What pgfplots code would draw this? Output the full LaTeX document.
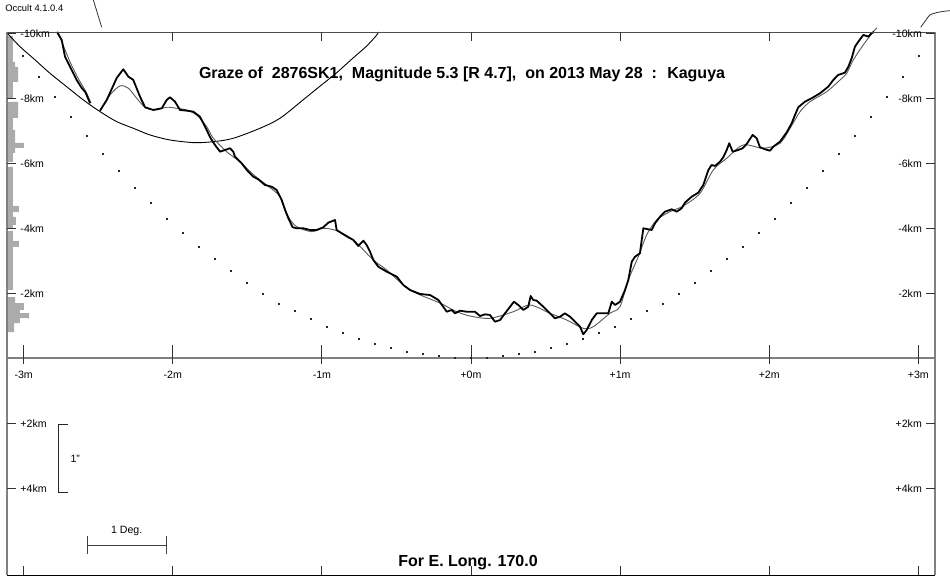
\documentclass[border=0pt]{standalone}
\usepackage{fontspec}
\setmainfont{Liberation Sans}
\usepackage{pgfplots}
\pgfplotsset{compat=1.18}

\tikzset{
  lab/.style={font=\fontsize{10.6}{12}\selectfont, inner sep=0pt},
  big/.style={font=\fontsize{16}{18}\selectfont\bfseries, inner sep=0pt},
  tk/.style={black!80, line width=0.9pt},
}

\begin{document}
\begin{tikzpicture}
\begin{axis}[
  scale only axis,
  width=928pt, height=543pt,
  xmin=-3.112, xmax=3.112,
  ymin=-10.06, ymax=6.67,
  y dir=reverse,
  hide axis,
  clip=false,
]
% limb correction histogram (left edge)
\addplot[fill=black!33, draw=none] coordinates {
  (-3.105,-9.938) (-3.072,-9.938) (-3.072,-9.137) (-3.058,-9.137) (-3.058,-8.983)
  (-3.038,-8.983) (-3.038,-8.521) (-3.072,-8.521) (-3.072,-7.997) (-3.105,-7.997)};
\addplot[fill=black!33, draw=none] coordinates {
  (-3.105,-7.904) (-3.038,-7.904) (-3.038,-7.411) (-3.072,-7.411) (-3.072,-7.042)
  (-3.058,-7.042) (-3.058,-6.641) (-2.998,-6.641) (-2.998,-6.487) (-3.058,-6.487)
  (-3.058,-6.333) (-3.072,-6.333) (-3.072,-6.055) (-3.105,-6.055)};
\addplot[fill=black!33, draw=none] coordinates {
  (-3.105,-5.901) (-3.072,-5.901) (-3.072,-4.700) (-3.032,-4.700) (-3.032,-4.515)
  (-3.072,-4.515) (-3.072,-4.361) (-3.052,-4.361) (-3.052,-4.114) (-3.072,-4.114)
  (-3.072,-4.022) (-3.105,-4.022)};
\addplot[fill=black!33, draw=none] coordinates {
  (-3.105,-3.929) (-3.072,-3.929) (-3.072,-3.621) (-3.032,-3.621) (-3.032,-3.436)
  (-3.072,-3.436) (-3.072,-2.111) (-3.105,-2.111)};
\addplot[fill=black!33, draw=none] coordinates {
  (-3.105,-1.895) (-3.058,-1.895) (-3.058,-1.710) (-2.998,-1.710) (-2.998,-1.495)
  (-3.025,-1.495) (-3.025,-1.402) (-2.964,-1.402) (-2.964,-1.248) (-3.025,-1.248)
  (-3.025,-1.094) (-3.065,-1.094) (-3.065,-0.816) (-3.105,-0.816)};

% dotted limit curve
\addplot[only marks, mark=square*, mark size=0.5pt, black!85] coordinates {
  (-3.005,-9.338) (-2.898,-8.675) (-2.790,-8.059) (-2.683,-7.442) (-2.576,-6.857)
  (-2.468,-6.302) (-2.361,-5.778) (-2.254,-5.254) (-2.146,-4.792) (-2.039,-4.299)
  (-1.932,-3.868) (-1.824,-3.452) (-1.717,-3.082) (-1.610,-2.696) (-1.502,-2.327)
  (-1.395,-1.988) (-1.288,-1.695) (-1.180,-1.464) (-1.073,-1.217) (-0.966,-0.971)
  (-0.858,-0.786) (-0.751,-0.601) (-0.644,-0.447) (-0.537,-0.324) (-0.429,-0.216)
  (-0.322,-0.139) (-0.215,-0.077) (-0.107,-0.031) (0.000,-0.015)
  (0.107,-0.031) (0.215,-0.077) (0.322,-0.139) (0.429,-0.216) (0.537,-0.324)
  (0.644,-0.447) (0.751,-0.601) (0.858,-0.786) (0.966,-0.971) (1.073,-1.217)
  (1.180,-1.464) (1.288,-1.695) (1.395,-1.988) (1.502,-2.327) (1.610,-2.696)
  (1.717,-3.082) (1.824,-3.452) (1.932,-3.868) (2.039,-4.299) (2.146,-4.792)
  (2.254,-5.254) (2.361,-5.778) (2.468,-6.302) (2.576,-6.857) (2.683,-7.442)
  (2.790,-8.059) (2.898,-8.675) (3.005,-9.338)};

% star path arc
\addplot[black, line width=0.9pt, smooth, tension=0.5] coordinates {
  (-3.105,-10.000) (-3.025,-9.609) (-2.936,-9.251) (-2.824,-8.789) (-2.712,-8.376)
  (-2.600,-7.966) (-2.488,-7.606) (-2.376,-7.298) (-2.265,-7.094) (-2.153,-6.888)
  (-2.019,-6.733) (-1.851,-6.650) (-1.717,-6.687) (-1.594,-6.786) (-1.415,-7.094)
  (-1.281,-7.402) (-1.127,-7.966) (-1.017,-8.376) (-0.905,-8.789) (-0.793,-9.251)
  (-0.704,-9.609) (-0.637,-9.938) (-0.620,-10.062)};

% smoothed limb profile
\addplot[black!65, line width=0.9pt, smooth, tension=0.5] coordinates {
  (-2.770,-10.062) (-2.736,-9.661) (-2.689,-9.137) (-2.636,-8.644) (-2.582,-8.213)
  (-2.549,-7.874)};
\addplot[black!65, line width=0.9pt, smooth, tension=0.5] coordinates {
  (-2.488,-7.637) (-2.421,-8.120) (-2.354,-8.398) (-2.298,-8.327) (-2.242,-8.019)
  (-2.186,-7.741) (-2.119,-7.658) (-2.041,-7.741) (-1.974,-7.710) (-1.907,-7.658)
  (-1.840,-7.504) (-1.773,-7.143) (-1.728,-6.786) (-1.639,-6.373) (-1.549,-6.056)
  (-1.449,-5.624) (-1.362,-5.316) (-1.281,-4.986) (-1.225,-4.370) (-1.169,-4.062)
  (-1.068,-3.908) (-0.991,-4.012) (-0.901,-3.938) (-0.789,-3.652) (-0.655,-3.035)
  (-0.565,-2.727) (-0.409,-2.111) (-0.208,-1.710) (-0.107,-1.464) (-0.007,-1.310)
  (0.127,-1.239) (0.284,-1.442) (0.396,-1.649) (0.530,-1.393) (0.642,-1.186)
  (0.753,-0.931) (0.820,-0.980) (0.932,-1.393) (0.999,-1.596) (1.055,-2.419)
  (1.122,-3.137) (1.178,-3.806) (1.245,-4.268) (1.335,-4.524) (1.424,-4.700)
  (1.536,-5.091) (1.625,-5.809) (1.715,-6.170) (1.826,-6.579) (1.960,-6.478)
  (2.072,-6.632) (2.140,-7.094) (2.207,-7.606) (2.274,-7.914) (2.386,-8.222)
  (2.475,-8.583) (2.520,-8.789) (2.564,-9.199) (2.631,-9.661) (2.698,-10.071)
  (2.723,-10.185)};

% observed limb profile
\addplot[black, line width=1.8pt, line join=round] coordinates {
  (-2.777,-10.062) (-2.745,-9.815) (-2.723,-9.301) (-2.678,-8.891) (-2.645,-8.583)
  (-2.611,-8.336) (-2.589,-8.222) (-2.578,-8.120) (-2.555,-7.865)};
\addplot[black, line width=1.8pt, line join=round] coordinates {
  (-2.488,-7.637) (-2.443,-7.966) (-2.376,-8.644) (-2.332,-8.912) (-2.298,-8.684)
  (-2.265,-8.583) (-2.220,-8.068) (-2.186,-7.741) (-2.131,-7.658) (-2.074,-7.710)
  (-2.041,-7.966) (-2.019,-8.050) (-1.985,-7.914) (-1.952,-7.658) (-1.907,-7.637)
  (-1.863,-7.606) (-1.818,-7.452) (-1.773,-7.042) (-1.746,-6.786) (-1.717,-6.579)
  (-1.683,-6.373) (-1.650,-6.425) (-1.616,-6.478) (-1.594,-6.373) (-1.583,-6.219)
  (-1.538,-6.015) (-1.504,-5.809) (-1.460,-5.602) (-1.427,-5.522) (-1.382,-5.347)
  (-1.337,-5.294) (-1.303,-5.193) (-1.270,-4.885) (-1.247,-4.576) (-1.225,-4.321)
  (-1.196,-4.043) (-1.169,-4.012) (-1.125,-4.012) (-1.080,-3.960) (-1.035,-3.960)
  (-0.991,-4.043) (-0.957,-4.185) (-0.912,-4.268) (-0.901,-3.960) (-0.867,-3.858)
  (-0.823,-3.735) (-0.789,-3.652) (-0.756,-3.467) (-0.722,-3.630) (-0.700,-3.498)
  (-0.677,-3.291) (-0.655,-3.035) (-0.622,-2.829) (-0.565,-2.675) (-0.498,-2.521)
  (-0.454,-2.265) (-0.409,-2.111) (-0.342,-1.988) (-0.275,-1.957) (-0.219,-1.803)
  (-0.186,-1.596) (-0.163,-1.442) (-0.129,-1.495) (-0.107,-1.393) (-0.074,-1.473)
  (-0.029,-1.442) (0.027,-1.442) (0.060,-1.310) (0.094,-1.362) (0.127,-1.341)
  (0.161,-1.134) (0.195,-1.186) (0.228,-1.393) (0.262,-1.596) (0.288,-1.750)
  (0.317,-1.649) (0.351,-1.495) (0.384,-1.596) (0.400,-1.926) (0.418,-1.803)
  (0.441,-1.781) (0.485,-1.596) (0.530,-1.393) (0.563,-1.239) (0.597,-1.288)
  (0.630,-1.393) (0.664,-1.288) (0.698,-1.134) (0.731,-0.980) (0.753,-0.746)
  (0.776,-0.878) (0.810,-1.186) (0.843,-1.393) (0.887,-1.393) (0.921,-1.393)
  (0.944,-1.750) (0.966,-1.649) (0.999,-1.750) (1.033,-2.111) (1.055,-2.419)
  (1.078,-2.983) (1.100,-3.137) (1.133,-3.242) (1.145,-3.652) (1.156,-4.012)
  (1.212,-3.960) (1.234,-4.166) (1.268,-4.370) (1.301,-4.524) (1.346,-4.598)
  (1.380,-4.524) (1.413,-4.629) (1.435,-4.801) (1.480,-4.986) (1.524,-5.109)
  (1.558,-5.347) (1.592,-5.809) (1.614,-5.963) (1.636,-5.932) (1.670,-6.065)
  (1.692,-6.200) (1.715,-6.425) (1.732,-6.632) (1.755,-6.373) (1.793,-6.425)
  (1.822,-6.478) (1.849,-6.610) (1.889,-6.888) (1.916,-6.786) (1.938,-6.509)
  (1.972,-6.447) (2.005,-6.404) (2.028,-6.527) (2.072,-6.681) (2.117,-6.965)
  (2.151,-7.248) (2.173,-7.504) (2.195,-7.741) (2.240,-7.914) (2.285,-8.019)
  (2.341,-8.173) (2.396,-8.376) (2.430,-8.583) (2.463,-8.737) (2.508,-8.808)
  (2.531,-8.992) (2.553,-9.251) (2.575,-9.609) (2.598,-9.763) (2.631,-9.969)
  (2.665,-9.917) (2.687,-10.022) (2.703,-10.062)};

% lines running out above the frame
\addplot[black!80, line width=0.8pt] coordinates {(-2.533,-11.048) (-2.477,-10.207)};
\addplot[black!80, line width=0.8pt, smooth] coordinates {
  (3.016,-10.207) (3.052,-10.432) (3.078,-10.586) (3.123,-10.657) (3.166,-10.694) (3.213,-10.718)};

% frame and zero line
\draw[black!70, line width=0.9pt] (axis cs:-3.112,-10.06) -- (axis cs:3.112,-10.06);
\draw[black, line width=1pt] (axis cs:-3.112,6.67) -- (axis cs:3.112,6.67);
\draw[gray, line width=1.3pt] (axis cs:-3.112,-10.06) -- (axis cs:-3.112,6.67);
\draw[gray, line width=1.3pt] (axis cs:3.112,-10.06) -- (axis cs:3.112,6.67);
\draw[gray, line width=1.7pt] (axis cs:-3.112,-0.02) -- (axis cs:3.112,-0.02);

% ticks
\pgfplotsinvokeforeach{-3,-2,-1,0,1,2,3}{
  \draw[tk] (axis cs:#1,-0.416) -- (axis cs:#1,0.17);
  \draw[tk] (axis cs:#1,6.394) -- (axis cs:#1,6.67);
}
\pgfplotsinvokeforeach{-2,-1,0,1,2}{
  \draw[tk] (axis cs:#1,-10.06) -- (axis cs:#1,-9.785);
}
\pgfplotsinvokeforeach{-10,-8,-6,-4,-2,2,4}{
  \draw[tk] (axis cs:-3.112,#1) -- (axis cs:-3.052,#1);
  \draw[tk] (axis cs:3.052,#1) -- (axis cs:3.112,#1);
}

% tick labels
\node[lab] at (axis cs:-3,0.51) {-3m};
\node[lab] at (axis cs:-2,0.51) {-2m};
\node[lab] at (axis cs:-1,0.51) {-1m};
\node[lab] at (axis cs:0,0.51) {+0m};
\node[lab] at (axis cs:1,0.51) {+1m};
\node[lab] at (axis cs:2,0.51) {+2m};
\node[lab] at (axis cs:3,0.51) {+3m};

\node[lab, anchor=west] at (axis cs:-3.023,-10) {-10km};
\node[lab, anchor=west] at (axis cs:-3.023,-8) {-8km};
\node[lab, anchor=west] at (axis cs:-3.023,-6) {-6km};
\node[lab, anchor=west] at (axis cs:-3.023,-4) {-4km};
\node[lab, anchor=west] at (axis cs:-3.023,-2) {-2km};
\node[lab, anchor=west] at (axis cs:-3.023,2) {+2km};
\node[lab, anchor=west] at (axis cs:-3.023,4) {+4km};

\node[lab, anchor=east] at (axis cs:3.025,-10) {-10km};
\node[lab, anchor=east] at (axis cs:3.025,-8) {-8km};
\node[lab, anchor=east] at (axis cs:3.025,-6) {-6km};
\node[lab, anchor=east] at (axis cs:3.025,-4) {-4km};
\node[lab, anchor=east] at (axis cs:3.025,-2) {-2km};
\node[lab, anchor=east] at (axis cs:3.025,2) {+2km};
\node[lab, anchor=east] at (axis cs:3.025,4) {+4km};

% scale marks
\draw[black!85, line width=1pt] (axis cs:-2.701,2.028) -- (axis cs:-2.768,2.028)
  -- (axis cs:-2.768,4.123) -- (axis cs:-2.701,4.123);
\node[lab, anchor=west] at (axis cs:-2.687,3.097) {1"};
\draw[black!75, line width=1pt] (axis cs:-2.573,5.747) -- (axis cs:-2.041,5.747);
\draw[black!75, line width=1pt] (axis cs:-2.573,5.461) -- (axis cs:-2.573,6.025);
\draw[black!75, line width=1pt] (axis cs:-2.041,5.461) -- (axis cs:-2.041,6.025);
\node[lab] at (axis cs:-2.309,5.316) {1 Deg.};

% texts
\node[big] at (axis cs:-0.060,-8.767) {Graze of \ 2876SK1, \ Magnitude 5.3 [R 4.7], \ on 2013 May 28 \ : \ Kaguya};
\node[big] at (axis cs:-0.020,6.302) {For E. Long. 170.0};
\node[font=\fontsize{9.4}{11}\selectfont, inner sep=0pt, anchor=west] at (axis cs:-3.125,-10.80) {Occult 4.1.0.4};
\end{axis}
\pgfresetboundingbox
\path ([shift={(-7pt,-5pt)}]current axis.south west) rectangle ([shift={(15pt,32pt)}]current axis.north east);
\end{tikzpicture}
\end{document}
